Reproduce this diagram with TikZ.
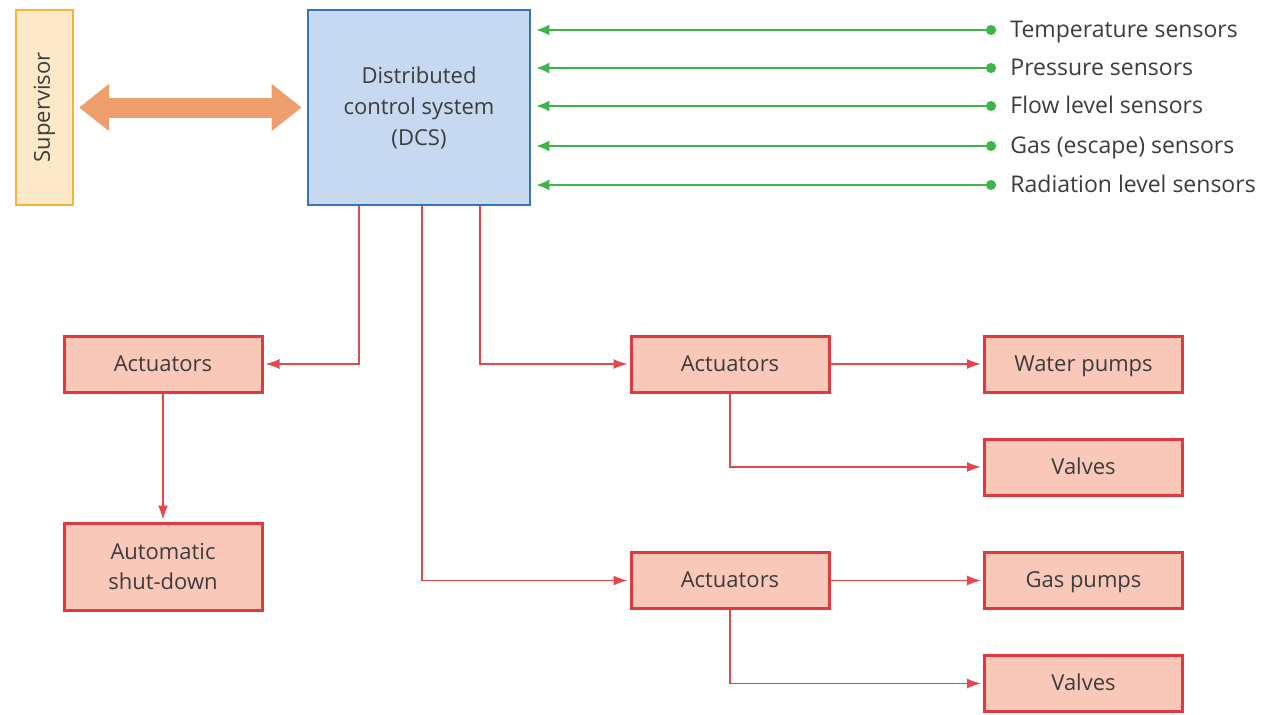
\documentclass[tikz,border=0pt]{standalone}
\usepackage{fontspec}
\setmainfont{Open Sans}
\usepackage{xcolor}
\usepackage{tikz}
\usetikzlibrary{shapes,arrows.meta,positioning,calc}

\definecolor{supfill}{HTML}{FDE8C8}
\definecolor{supline}{HTML}{F4B340}
\definecolor{linkcol}{HTML}{EE9D6C}
\definecolor{dcsfill}{HTML}{C6D9F0}
\definecolor{dcsline}{HTML}{3574B8}
\definecolor{sencol}{HTML}{3DB54A}
\definecolor{actfill}{HTML}{F9C8B8}
\definecolor{actline}{HTML}{E0393E}
\definecolor{ctlcol}{HTML}{E8474A}
\definecolor{txt}{HTML}{3C3C3C}

\begin{document}
\begin{tikzpicture}[x=0.5pt, y=-0.5pt, node distance=51.5pt,
    font=\fontsize{11}{14}\selectfont, text=txt]
    \tikzstyle{sup} = [rectangle, draw=supline, line width=1pt, fill=supfill,
        minimum width=28.5pt, minimum height=97.5pt, inner sep=0pt]
    \tikzstyle{dcs} = [rectangle, draw=dcsline, line width=1.3pt, fill=dcsfill,
        minimum width=111pt, minimum height=97.5pt, align=center,
        font=\fontsize{11}{15.5}\selectfont]
    \tikzstyle{tall} = [rectangle, draw=actline, line width=1.5pt, fill=actfill,
        minimum width=99pt, minimum height=28pt, align=center,
        font=\fontsize{11}{15}\selectfont]
    \tikzstyle{box} = [tall, text height=7.5pt, text depth=0.5pt]
    \tikzstyle{sensor} = [anchor=west, inner xsep=7pt, inner ysep=0pt,
        text height=7.5pt, text depth=0.5pt, font=\fontsize{11.5}{14}\selectfont]
    \tikzstyle{sig} = [draw=sencol, line width=0.9pt,
        {Circle[length=5pt]}-{Latex[length=6.5pt,width=5.5pt]}, shorten >=2.5pt]
    \tikzstyle{ctl} = [draw=ctlcol, line width=0.8pt,
        -{Latex[length=7pt,width=5pt]}, shorten >=1pt]
    \tikzstyle{link} = [draw=linkcol, line width=10pt,
        {Triangle[length=15pt,width=22.5pt]}-{Triangle[length=15pt,width=22.5pt]},
        shorten >=2.5pt, shorten <=2.5pt]

    \useasboundingbox (0,0) rectangle (1263,714);

    \node [sup] (sup) at (44.5,107.5) {\rotatebox{90}{Supervisor}};
    \node [dcs] (dcs) at (419,107.5) {Distributed\\control system\\(DCS)};

    % sensors
    \node [sensor] (temp) at (996,30) {Temperature sensors};
    \node [sensor] (press) at (996,68) {Pressure sensors};
    \node [sensor] (flow) at (996,106) {Flow level sensors};
    \node [sensor] (gas) at (996,146) {Gas (escape) sensors};
    \node [sensor] (rad) at (996,185) {Radiation level sensors};

    % actuators
    \node [box] (act1) at (163,364) {Actuators};
    \node [tall, minimum height=43.5pt] (shut) at (163,566.5) {Automatic\\shut-down};
    \node [box] (act2) at (730,364) {Actuators};
    \node [box] (water) at (1083.5,364) {Water pumps};
    \node [box] (valves1) [below of=water] {Valves};
    \node [box] (act3) at (730,580.5) {Actuators};
    \node [box] (gaspump) at (1083.5,580.5) {Gas pumps};
    \node [box] (valves2) [below of=gaspump] {Valves};

    % Arrows
    \draw[link] (sup.east) -- (dcs.west);
    \foreach \s in {temp,press,flow,gas,rad}
        \draw[sig] (\s.west) -- (\s.west -| dcs.east);
    \draw[ctl] ($(dcs.south west)+(52,0)$) |- (act1.east);
    \draw[ctl] ($(dcs.south west)+(173,0)$) |- (act2.west);
    \draw[ctl] ($(dcs.south west)+(115,0)$) |- (act3.west);
    \draw[ctl] (act1) -- (shut);
    \draw[ctl] (act2) -- (water);
    \draw[ctl] (act2.south) |- (valves1.west);
    \draw[ctl] (act3) -- (gaspump);
    \draw[ctl] (act3.south) |- (valves2.west);

\end{tikzpicture}
\end{document}
